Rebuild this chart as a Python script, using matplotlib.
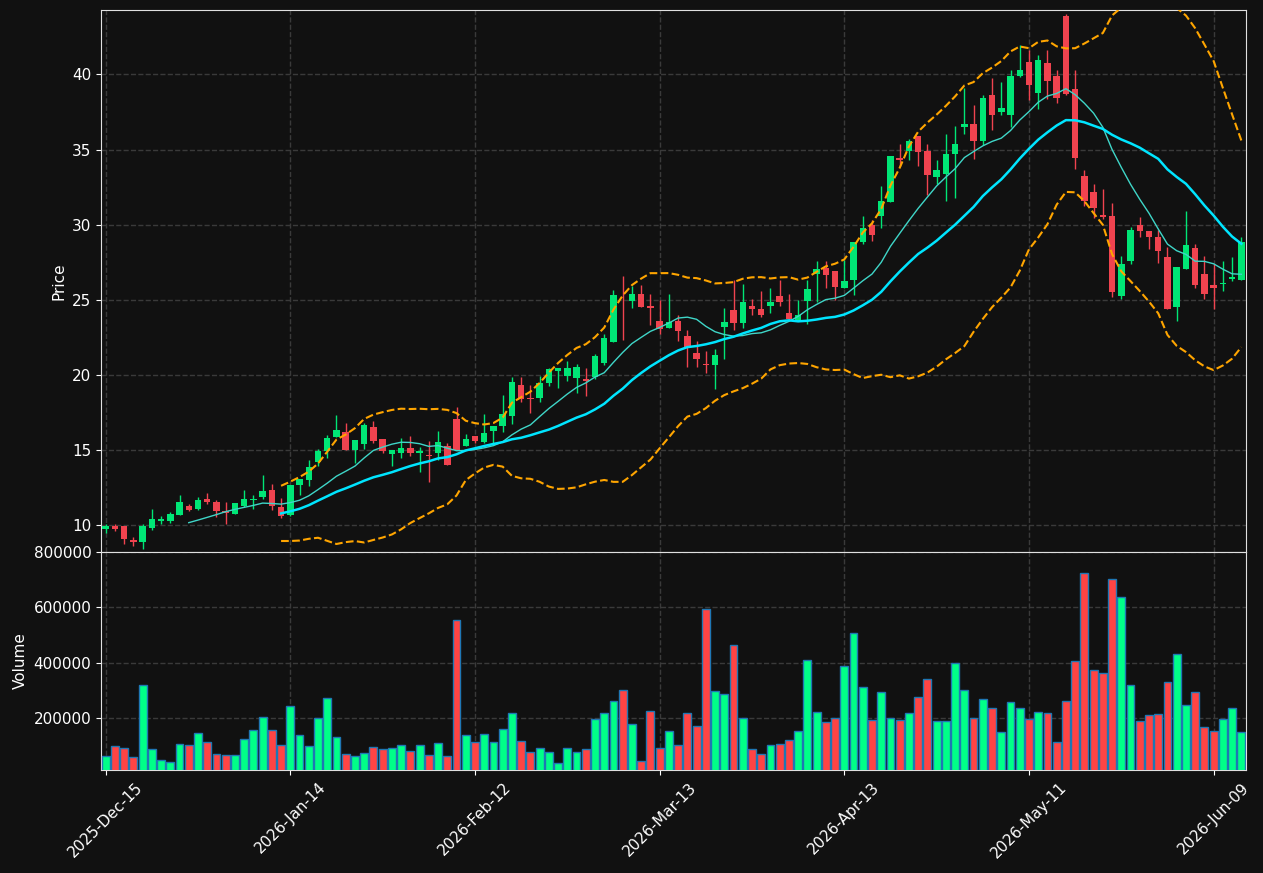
import numpy as np
import pandas as pd
import matplotlib
matplotlib.use("Agg")
import matplotlib.pyplot as plt

# ---- data ----
holidays = ['2025-12-25', '2026-01-01', '2026-01-19', '2026-02-16', '2026-04-03', '2026-05-25']
dates = [d for d in pd.bdate_range('2025-12-15', '2026-06-12') if d.strftime('%Y-%m-%d') not in holidays]

opens = [9.76, 9.93, 9.93, 9.00, 8.89, 9.82, 10.27, 10.27, 10.69, 11.29,
         11.06, 11.73, 11.53, 10.93, 10.75, 11.31, 11.70, 11.86, 12.33, 11.24,
         10.69, 12.69, 12.98, 14.18, 14.91, 15.89, 16.22, 15.02, 15.42, 16.56,
         15.73, 14.71, 14.78, 15.13, 14.84, 14.69, 14.84, 15.29, 17.09, 15.28,
         15.96, 15.56, 16.29, 16.62, 17.29, 19.36, 18.44, 18.44, 19.44, 20.24,
         19.96, 19.78, 19.76, 19.84, 20.82, 22.18, 25.02, 24.91, 25.40, 24.56,
         23.62, 23.11, 23.56, 22.62, 21.49, 20.76, 20.64, 23.18, 24.33, 23.44,
         24.60, 24.42, 24.58, 25.22, 24.09, 23.67, 24.91, 26.69, 27.11, 26.90,
         25.79, 26.33, 28.82, 29.96, 30.58, 31.51, 34.44, 34.91, 35.93, 34.89,
         33.18, 33.36, 34.71, 36.49, 36.73, 35.56, 38.62, 37.51, 37.29, 39.90,
         40.82, 38.76, 40.76, 39.89, 43.87, 39.00, 33.27, 32.20, 30.64, 30.60,
         25.22, 27.56, 30.00, 29.60, 29.20, 27.87, 24.49, 27.02, 28.44, 26.73,
         26.00, 26.04, 26.36, 26.31]
highs = [10.10, 10.10, 9.93, 9.25, 10.10, 11.10, 10.60, 10.86, 12.00, 11.40,
         11.90, 12.17, 11.70, 11.55, 11.51, 12.33, 12.00, 13.33, 12.77, 11.84,
         12.69, 13.09, 14.31, 15.07, 16.02, 17.33, 16.80, 15.69, 16.80, 16.91,
         15.73, 15.02, 15.80, 15.96, 15.20, 15.58, 16.27, 15.47, 17.87, 16.07,
         15.96, 17.40, 16.62, 18.67, 19.84, 19.84, 19.33, 19.93, 20.47, 20.47,
         20.91, 20.73, 20.47, 21.40, 22.73, 25.67, 26.56, 25.89, 25.96, 25.40,
         25.00, 25.40, 24.00, 22.96, 22.29, 21.62, 21.73, 24.47, 26.33, 26.02,
         25.07, 25.58, 25.80, 26.33, 25.40, 25.00, 26.33, 27.60, 27.60, 26.90,
         27.67, 28.82, 30.56, 30.33, 32.60, 34.60, 35.40, 35.67, 35.93, 35.40,
         34.29, 36.00, 36.58, 39.07, 37.96, 38.62, 39.78, 39.51, 40.29, 41.96,
         41.64, 41.27, 41.60, 40.31, 44.00, 40.27, 33.64, 32.71, 32.38, 31.42,
         27.89, 29.82, 30.49, 29.60, 29.64, 28.49, 27.20, 30.93, 28.71, 27.93,
         27.38, 27.60, 27.82, 29.16]
lows = [9.50, 9.62, 8.76, 8.63, 8.45, 9.67, 10.09, 10.16, 10.69, 10.95,
        10.99, 11.40, 10.55, 10.07, 10.75, 11.20, 11.07, 11.77, 11.04, 10.49,
        10.60, 12.02, 12.58, 13.91, 14.47, 15.89, 15.02, 14.13, 15.07, 15.47,
        14.80, 13.91, 14.47, 14.64, 13.51, 12.87, 14.31, 13.98, 15.02, 15.24,
        15.50, 15.44, 15.47, 16.22, 16.73, 18.18, 17.44, 18.18, 19.29, 19.11,
        19.58, 18.78, 18.60, 19.73, 20.69, 22.18, 22.33, 24.47, 24.51, 23.33,
        22.73, 23.11, 22.29, 20.56, 20.56, 20.11, 19.07, 21.07, 23.00, 23.13,
        24.02, 23.84, 24.11, 24.56, 23.58, 23.58, 23.40, 24.84, 25.78, 24.96,
        25.78, 25.29, 28.73, 28.89, 29.80, 31.51, 33.89, 34.29, 33.89, 32.00,
        32.69, 31.58, 31.80, 36.04, 34.40, 35.29, 36.33, 37.29, 36.51, 39.84,
        38.27, 37.71, 38.38, 38.11, 38.60, 33.71, 31.27, 30.44, 30.40, 25.20,
        25.04, 27.38, 29.20, 28.38, 27.42, 24.36, 23.60, 27.02, 25.78, 25.04,
        24.42, 25.60, 26.27, 26.31]
closes = [9.93, 9.73, 9.09, 8.87, 9.98, 10.40, 10.42, 10.73, 11.53, 11.04,
          11.66, 11.53, 10.93, 10.82, 11.51, 11.73, 11.73, 12.26, 11.26, 10.62,
          12.69, 13.09, 13.87, 14.96, 15.80, 16.36, 15.02, 15.69, 16.69, 15.62,
          14.91, 15.02, 15.16, 14.82, 14.96, 14.58, 15.56, 13.98, 15.02, 15.72,
          15.58, 16.13, 16.62, 17.40, 19.56, 18.38, 18.38, 19.49, 20.40, 20.47,
          20.47, 20.53, 19.62, 21.29, 22.47, 25.29, 24.96, 25.40, 24.51, 24.47,
          23.07, 23.49, 22.91, 21.89, 21.04, 20.64, 21.33, 23.53, 23.44, 24.87,
          24.38, 24.02, 24.87, 24.84, 23.73, 23.96, 25.73, 27.07, 26.67, 25.82,
          26.22, 28.82, 29.80, 29.31, 31.56, 34.60, 34.33, 35.56, 34.84, 33.31,
          33.62, 34.73, 35.40, 36.67, 35.56, 38.40, 37.29, 37.73, 39.89, 40.28,
          39.27, 40.93, 39.56, 38.42, 38.71, 34.42, 31.60, 31.09, 30.53, 25.49,
          27.38, 29.67, 29.56, 29.16, 28.22, 24.36, 27.20, 28.67, 26.00, 25.36,
          25.76, 26.09, 26.49, 28.82]
volumes = [60600, 97000, 89700, 57000, 318800, 86100, 46100, 38800, 104200, 100600,
           144200, 111500, 67900, 64200, 64200, 122400, 155200, 202400, 155200, 100600,
           242400, 137000, 97000, 198800, 271500, 129700, 67900, 60600, 71500, 93300,
           86100, 89700, 100600, 78800, 100600, 64200, 107900, 60600, 555200, 137000,
           111500, 140000, 114000, 158800, 215800, 117600, 75200, 92100, 77600, 37600,
           92100, 77600, 88500, 195200, 215800, 259400, 299400, 175800, 44800, 223000,
           92100, 150300, 103000, 215800, 168500, 593900, 295800, 284800, 463000, 197600,
           88500, 70300, 103000, 106700, 121200, 150300, 408500, 219400, 183000, 197600,
           386700, 506700, 310300, 191500, 292100, 197600, 191500, 215800, 273900, 339400,
           186700, 186700, 397600, 299400, 197600, 266700, 233900, 146700, 255800, 233900,
           193900, 219400, 215800, 114000, 259400, 404800, 724800, 372100, 361200, 703000,
           637600, 317600, 186700, 208500, 212100, 328500, 430300, 244800, 292100, 164800,
           153900, 193900, 233900, 146700]

df = pd.DataFrame({'Open': opens, 'High': highs, 'Low': lows, 'Close': closes,
                   'Volume': volumes}, index=pd.DatetimeIndex(dates))

ma10 = df['Close'].rolling(10).mean()
ma20 = df['Close'].rolling(20).mean()
sd20 = df['Close'].rolling(20).std()
upper = ma20 + 2 * sd20
lower = ma20 - 2 * sd20

# ---- style ----
BG = '#111111'
UP_C, DN_C = '#00e676', '#f0434f'
UP_V, DN_V = '#00ff88', '#ff4444'
GRID = '#3a3a3a'

fig = plt.figure(figsize=(12.63, 8.73), dpi=100, facecolor=BG)
ax = fig.add_axes([0.08, 0.3677, 0.9065, 0.6208])
axv = fig.add_axes([0.08, 0.118, 0.9065, 0.2497], sharex=ax)

for a in (ax, axv):
    a.set_facecolor(BG)
    for s in a.spines.values():
        s.set_color('#e0e0e0')
    a.tick_params(colors='white', labelsize=11)
    a.grid(True, linestyle='--', color=GRID, linewidth=1)
    a.set_axisbelow(True)

x = np.arange(len(df))
up = df['Close'] >= df['Open']
ccol = np.where(up, UP_C, DN_C)
vcol = np.where(up, UP_V, DN_V)

# wicks
ax.vlines(x, df['Low'], df['High'], colors=ccol, linewidth=1, zorder=2)
# bodies
body_bot = np.minimum(df['Open'], df['Close'])
body_h = np.maximum(np.abs(df['Close'] - df['Open']), 0.06)
ax.bar(x, body_h, bottom=body_bot, width=0.7, color=ccol, linewidth=0, zorder=3)

ax.plot(x, ma10, color='#3fd6c8', linewidth=1, zorder=4)
ax.plot(x, ma20, color='#00e5ff', linewidth=1.8, zorder=4)
ax.plot(x, upper, color='#ffa500', linewidth=1.5, linestyle='--', zorder=4)
ax.plot(x, lower, color='#ffa500', linewidth=1.5, linestyle='--', zorder=4)

ax.set_ylim(8.22, 44.28)
ax.set_yticks([10, 15, 20, 25, 30, 35, 40])
ax.set_ylabel('Price', color='white', fontsize=11)
ax.tick_params(labelbottom=False)

axv.bar(x, df['Volume'], width=0.85, color=vcol, edgecolor='#1f77b4', linewidth=1, zorder=3)
axv.set_ylim(11000, 800000)
axv.set_yticks([200000, 400000, 600000, 800000])
axv.set_yticklabels(['200000', '400000', '600000', '800000'])
axv.set_ylabel('Volume', color='white', fontsize=11)

axv.set_xlim(-0.5, 123.5)
tick_idx = list(range(0, len(df), 20))
axv.set_xticks(tick_idx)
axv.set_xticklabels([df.index[i].strftime('%Y-%b-%d') for i in tick_idx], rotation=45)

fig.savefig('out.png', dpi=100, facecolor=BG)
